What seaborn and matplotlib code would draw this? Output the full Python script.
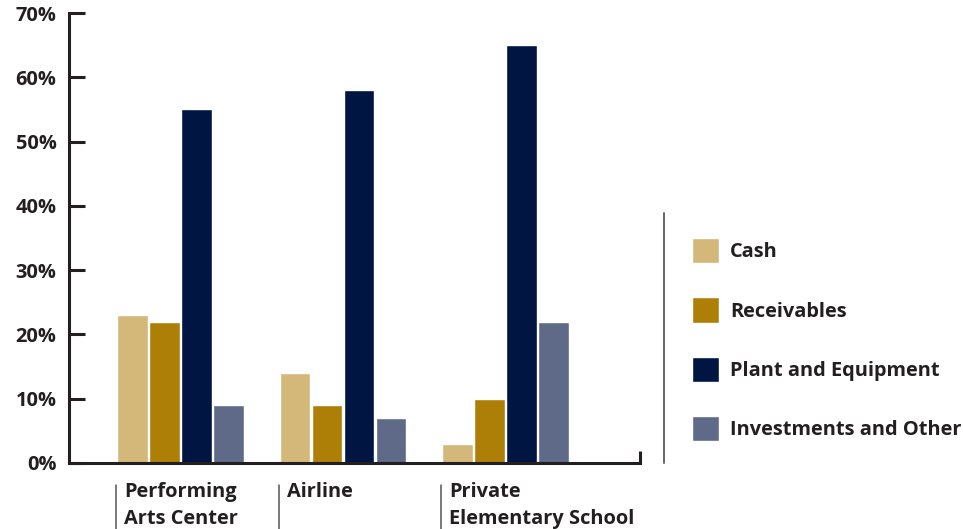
import seaborn as sns
import pandas as pd
import matplotlib.pyplot as plt
from matplotlib.lines import Line2D
import matplotlib.transforms as mtransforms

categories = ['Performing\nArts Center', 'Airline', 'Private\nElementary School']
series = ['Cash', 'Receivables', 'Plant and Equipment', 'Investments and Other']
cash = [23, 14, 3]
receivables = [22, 9, 10]
plant = [55, 58, 65]
investments = [9, 7, 22]
colors = ['#D4B87A', '#AD7F06', '#001542', '#5E6A88']
ink = '#231F20'

rows = []
for name, vals in zip(series, [cash, receivables, plant, investments]):
    for cat, v in zip(categories, vals):
        rows.append({'Category': cat, 'Asset': name, 'Percent': v})
data = pd.DataFrame(rows)

sns.set_style('white')
plt.rcParams['font.family'] = ['Open Sans', 'DejaVu Sans']
plt.rcParams['font.weight'] = 'bold'
fs = 14.4

fig = plt.figure(figsize=(9.63, 5.29), dpi=100)
ax = fig.add_axes([69 / 963, 1 - 463 / 529, (640 - 69) / 963, 450 / 529])

sns.barplot(data=data, x='Category', y='Percent', hue='Asset', order=categories,
            hue_order=series, palette=colors, width=0.79, gap=0.05,
            saturation=1, ax=ax, legend=True)

ax.set_ylim(0, 70)
ax.set_xlim(-0.686, 2.828)
ax.set_yticks(range(0, 71, 10))
ax.set_yticklabels([f'{t}%' for t in range(0, 71, 10)], fontsize=fs, fontweight='bold', color=ink)
ax.set_xticks([])
ax.set_xticks([2.828], minor=True)
ax.tick_params(axis='y', direction='in', length=11.5, width=2.2, color=ink, pad=9, left=True)
ax.tick_params(axis='x', which='minor', direction='in', length=8.5, width=2.2, color=ink, bottom=True)
ax.set_xlabel('')
ax.set_ylabel('')
sns.despine(ax=ax)
for side in ['left', 'bottom']:
    ax.spines[side].set_linewidth(2.2)
    ax.spines[side].set_color(ink)

# category labels with a separator line on the left
trans = mtransforms.blended_transform_factory(ax.transData, ax.transAxes)
offset = mtransforms.ScaledTranslation(8 / 100, 0, fig.dpi_scale_trans)
for i, cat in enumerate(categories):
    left = i - 0.395
    ax.plot([left, left], [-0.049, -0.147], transform=trans, color='#555555',
            lw=1.1, clip_on=False)
    ax.text(left, -0.042, cat, transform=trans + offset, ha='left', va='top',
            fontsize=fs, fontweight='bold', color=ink, linespacing=1.45)

# legend
handles, labels = ax.get_legend_handles_labels()
ax.legend(handles, labels, loc='upper left', bbox_to_anchor=(692 / 963, 1 - 238 / 529),
          bbox_transform=fig.transFigure, frameon=False, borderpad=0, borderaxespad=0,
          handlelength=1.35, handleheight=1.55, handletextpad=0.55, labelspacing=1.72,
          prop={'size': fs, 'weight': 'bold'}, labelcolor=ink)
fig.add_artist(Line2D([664 / 963, 664 / 963], [1 - 213 / 529, 1 - 463 / 529],
                      transform=fig.transFigure, color='#666666', lw=1.4))

fig.savefig('out.png', dpi=100)
